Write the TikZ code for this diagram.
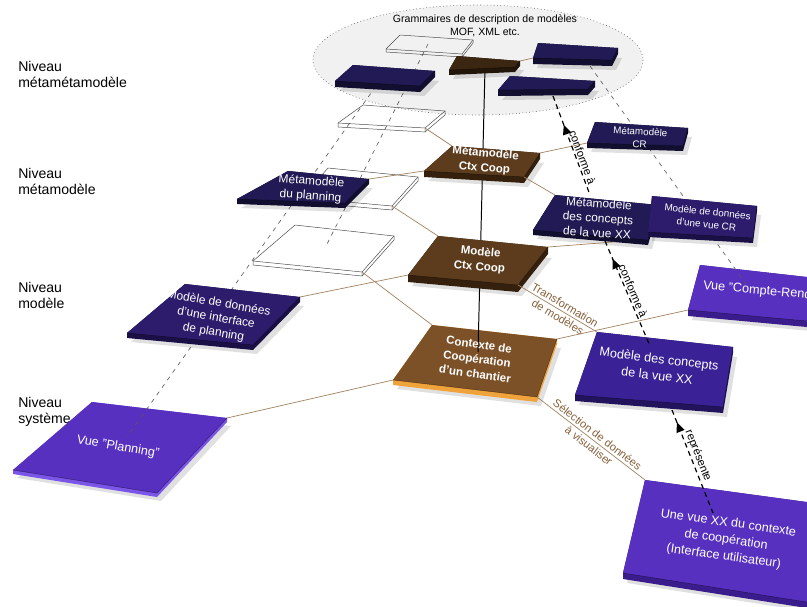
\documentclass[tikz,border=0pt]{standalone}
\usepackage{fontspec}
\setmainfont{Liberation Sans}
\usetikzlibrary{calc,arrows.meta,decorations.markings}

\definecolor{nuit}{HTML}{211A54}
\definecolor{nuitT}{HTML}{120E30}
\definecolor{indigo}{HTML}{2D1C6C}
\definecolor{indigoT}{HTML}{1A1046}
\definecolor{pourpre}{HTML}{3A2196}
\definecolor{pourpreT}{HTML}{22135C}
\definecolor{lilas}{HTML}{5830C0}
\definecolor{lilasT}{HTML}{3B1C8C}
\definecolor{lilasC}{HTML}{7A55E8}
\definecolor{brunF}{HTML}{3B2612}
\definecolor{brunFT}{HTML}{22150A}
\definecolor{brunM}{HTML}{5C3C1D}
\definecolor{brunMT}{HTML}{35200D}
\definecolor{brunC}{HTML}{7C5128}
\definecolor{bordOr}{HTML}{F0A33A}
\definecolor{brunLien}{HTML}{A2825F}
\definecolor{brunTexte}{HTML}{86603A}
\definecolor{brume}{HTML}{F1F1F1}

% plaque : [epaisseur]{nom}{hg}{hd}{bd}{bg}{dessus}{tranche}
\newcommand{\plaque}[8][5]{%
  \coordinate (#2-hg) at #3;
  \coordinate (#2-hd) at #4;
  \coordinate (#2-bd) at #5;
  \coordinate (#2-bg) at #6;
  \fill[ombre] ($(#2-hg)+(4,#1+4)$) -- ($(#2-hd)+(4,#1+4)$) -- ($(#2-bd)+(4,#1+4)$) -- ($(#2-bg)+(4,#1+4)$) -- cycle;
  \fill[#8] (#2-hg) -- (#2-hd) -- ($(#2-hd)+(0,#1)$) -- ($(#2-bd)+(0,#1)$) -- ($(#2-bg)+(0,#1)$) -- (#2-bg) -- cycle;
  \fill[#7] (#2-hg) -- (#2-hd) -- (#2-bd) -- (#2-bg) -- cycle;
  \draw[arete] (#2-bg) -- (#2-bd) -- (#2-hd);
}
% cadre vide : [epaisseur]{nom}{hg}{hd}{bd}{bg}
\newcommand{\cadre}[6][4]{%
  \coordinate (#2-hg) at #3;
  \coordinate (#2-hd) at #4;
  \coordinate (#2-bd) at #5;
  \coordinate (#2-bg) at #6;
  \draw[fil] (#2-hg) -- (#2-hd) -- ($(#2-hd)+(0,#1)$) -- ($(#2-bd)+(0,#1)$) -- ($(#2-bg)+(0,#1)$) -- (#2-bg) -- cycle;
  \draw[fil] (#2-bg) -- (#2-bd) -- (#2-hd) (#2-bd) -- ++(0,#1);
}

\begin{document}
\begin{tikzpicture}
[x=0.025cm, y=-0.025cm,
 ombre/.style={fill=black, opacity=0.12},
 arete/.style={draw=black, opacity=0.5, line width=0.3pt},
 fil/.style={draw=black!70, line width=0.35pt},
 lien/.style={draw=brunLien, line width=0.5pt},
 renvoi/.style={draw=black!65, line width=0.45pt, dash pattern=on 3pt off 3.5pt},
 conforme/.style={draw=black, line width=0.85pt, dash pattern=on 3.5pt off 2.8pt,
   postaction={decorate, decoration={markings,
     mark=at position #1 with {\arrowreversed{Triangle[length=7pt,width=6pt]}}}}},
 etiq/.style={text=white, align=center, inner sep=0pt, font=\fontsize{8.5}{10.5}\selectfont},
 gras/.style={etiq, font=\bfseries\fontsize{8.2}{10.5}\selectfont},
 petit/.style={etiq, font=\fontsize{7}{9}\selectfont},
 grand/.style={etiq, font=\fontsize{9}{12}\selectfont},
 niveau/.style={anchor=north west, align=left, inner sep=0pt, font=\fontsize{10}{11.5}\selectfont},
 legende/.style={text=brunTexte, align=center, inner sep=1pt, font=\fontsize{8}{10}\selectfont},
 verbe/.style={text=black, inner sep=1pt, font=\fontsize{8}{9}\selectfont}]
\useasboundingbox (0,0) rectangle (807,606);

% niveaux
\node[niveau] (n-mmm) at (18,61) {Niveau\\métamétamodèle};
\node[niveau] (n-mm) at (18,168) {Niveau\\métamodèle};
\node[niveau] (n-m) at (18,282) {Niveau\\modèle};
\node[niveau] (n-sys) at (18,397) {Niveau\\système};

% grammaires
\draw[fill=brume, draw=black!60, line width=0.4pt, dash pattern=on 0.6pt off 1.8pt]
  (478,60) ellipse [x radius=165, y radius=55];
\node[inner sep=0pt, align=center, font=\fontsize{7.5}{9}\selectfont] (gram)
  at (485,26) {Grammaires de description de modèles\\MOF, XML etc.};

% plaques du niveau systeme
\plaque[4]{v-plan}{(92,402)}{(227,418)}{(157,493)}{(13,470)}{lilas}{lilasC}
\plaque[6]{v-xx}{(645,480)}{(880,512)}{(870,612)}{(623,573)}{lilas}{lilasT}
\plaque[6]{v-cr}{(700,265)}{(860,283)}{(850,325)}{(688,310)}{lilas}{lilasT}
\plaque[5]{ctx}{(432,325)}{(557,339)}{(537,397)}{(393,380)}{brunC}{bordOr}

% renvois de conformite
\coordinate (l1-h) at (376,86);
\coordinate (l1-b) at (127,437);
\coordinate (l2-h) at (428,44);
\coordinate (l2-b) at (325,248);
\coordinate (r1-h) at (590,66);
\coordinate (r1-b) at (746,284);
\draw[renvoi] (l1-h) -- (l1-b);
\draw[renvoi] (l2-h) -- (l2-b);
\draw[renvoi] (r1-h) -- (r1-b);

% axe Ctx Coop
\coordinate (axe-h) at (485,68);
\coordinate (axe-b) at (478,352);
\draw[black, line width=0.7pt] (axe-h) -- (axe-b);

% niveau metametamodele
\cadre[3]{cadre-a}{(400,35)}{(473,40)}{(462,54)}{(386,49)}
\plaque[6]{gram-a}{(353,65)}{(435,71)}{(420,86)}{(335,81)}{nuit}{nuitT}
\plaque[5]{gram-b}{(457,56)}{(520,61)}{(515,67)}{(449,70)}{brunF}{brunFT}
\plaque[6]{gram-c}{(538,43)}{(618,48)}{(612,60)}{(533,58)}{nuit}{nuitT}
\plaque[6]{gram-d}{(510,76)}{(595,81)}{(588,89)}{(498,90)}{nuit}{nuitT}

% niveau metamodele
\cadre{cadre-b}{(363,105)}{(445,111)}{(425,128)}{(338,123)}
\cadre{cadre-c}{(328,168)}{(418,177)}{(392,206)}{(302,198)}
\plaque[6]{mm-ctx}{(452,146)}{(540,153)}{(524,177)}{(424,171)}{brunM}{brunMT}
\plaque{mm-cr}{(595,122)}{(688,128)}{(683,146)}{(587,143)}{nuit}{nuitT}
\plaque{mm-plan}{(288,171)}{(369,179)}{(345,203)}{(237,199)}{nuit}{nuitT}
\plaque{mm-xx}{(555,195)}{(658,205)}{(648,240)}{(533,230)}{nuit}{nuitT}

% niveau modele
\cadre{cadre-d}{(295,225)}{(394,236)}{(362,272)}{(253,261)}
\plaque[7]{m-ctx}{(438,236)}{(548,247)}{(518,285)}{(408,275)}{brunM}{brunMT}
\plaque{m-cr}{(652,196)}{(757,206)}{(753,238)}{(648,232)}{indigo}{indigoT}
\plaque{m-plan}{(185,284)}{(300,297)}{(253,345)}{(127,333)}{indigo}{indigoT}
\plaque[6]{m-xx}{(597,332)}{(733,347)}{(723,407)}{(575,395)}{pourpre}{pourpreT}

% liens
\coordinate (mm-xx-b) at ($(mm-xx-bg)!0.7!(mm-xx-bd)+(0,5)$);
\draw[lien] (gram-b-hd) -- (gram-c-bg);
\draw[lien] (cadre-b-bd) -- (mm-ctx-hg);
\draw[lien] (mm-ctx-bg) -- (mm-plan-hd);
\draw[lien] (mm-ctx-hd) -- (mm-cr-bg);
\draw[lien] (mm-ctx-bd) -- (mm-xx-hg);
\draw[lien] (cadre-c-bd) -- (m-ctx-hg);
\draw[lien] (m-ctx-bg) -- (m-plan-hd);
\draw[lien] (m-ctx-hd) -- (mm-xx-b);
\draw[lien] (m-ctx-bd) -- node[legende, sloped, pos=0.55] (l-transfo) {Transformation\\de modèles} (m-xx-hg);
\draw[lien] (cadre-d-bd) -- (ctx-hg);
\draw[lien] (ctx-hd) -- (v-cr-bg);
\draw[lien] (ctx-bg) -- (v-plan-hd);
\draw[lien] (ctx-bd) -- node[legende, sloped, pos=0.52] (l-selection) {Sélection de données\\à visualiser} (v-xx-hg);

% conforme a / represente
\coordinate (c1-h) at (553,96);
\coordinate (c1-b) at (590,195);
\coordinate (c2-h) at (605,241);
\coordinate (c2-b) at (650,346);
\coordinate (c3-h) at (672,410);
\coordinate (c3-b) at (713,513);
\draw[conforme=0.29] (c1-h) -- node[verbe, sloped, above, pos=0.64] (v-conf1) {conforme à} (c1-b);
\draw[conforme=0.17] (c2-h) -- node[verbe, sloped, above, pos=0.5] (v-conf2) {conforme à} (c2-b);
\draw[conforme=0.12] (c3-h) -- node[verbe, sloped, above, pos=0.47] (v-repr) {représente} (c3-b);

% textes des plaques
\node[gras, rotate=-5] (t-mm-ctx) at (485,161) {Métamodèle\\Ctx Coop};
\node[etiq, rotate=-4] (t-mm-plan) at (311,189) {Métamodèle\\du planning};
\node[petit, rotate=-3] (t-mm-cr) at (640,138) {Métamodèle\\CR};
\node[etiq, rotate=-4] (t-mm-xx) at (598,218) {Métamodèle\\des concepts\\de la vue XX};
\node[gras, rotate=-5] (t-m-ctx) at (480,260) {Modèle\\Ctx Coop};
\node[petit, rotate=-6] (t-m-cr) at (707,218) {Modèle de données\\d'une vue CR};
\node[etiq, rotate=-10] (t-m-plan) at (216,318) {Modèle de données\\d'une interface\\de planning};
\node[grand, rotate=-7] (t-m-xx) at (658,367) {Modèle des concepts\\de la vue XX};
\node[gras, rotate=-8] (t-ctx) at (477,359) {Contexte de\\Coopération\\d'un chantier};
\node[grand, rotate=-10] (t-v-plan) at (118,447) {Vue "Planning"};
\node[grand, rotate=-5, anchor=west] (t-v-cr) at (703,286) {Vue "Compte-Rendu"};
\node[grand, rotate=-8] (t-v-xx) at (726,540) {Une vue XX du contexte\\de coopération\\(Interface utilisateur)};
\end{tikzpicture}
\end{document}
